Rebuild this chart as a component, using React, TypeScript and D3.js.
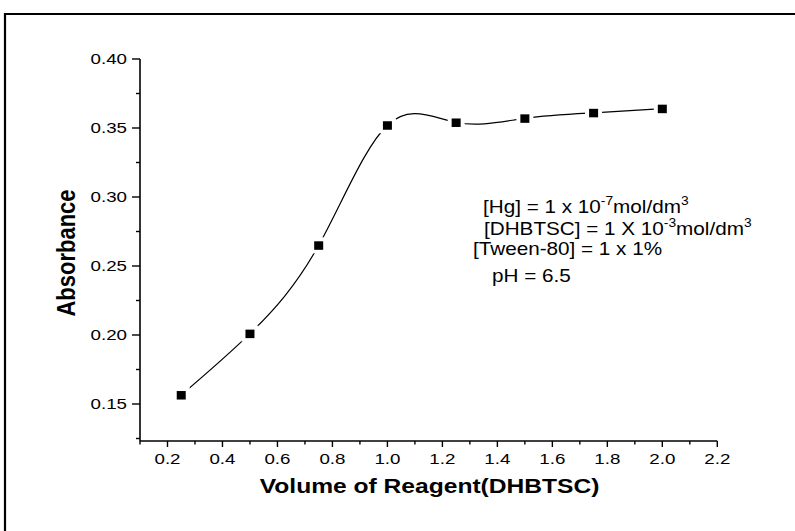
import React from "react";
import * as d3 from "d3";

const volumes = [0.25, 0.5, 0.75, 1.0, 1.25, 1.5, 1.75, 2.0];
const absorbance = [0.1565, 0.201, 0.265, 0.352, 0.354, 0.357, 0.361, 0.364];
const xMajorTicks = [0.2, 0.4, 0.6, 0.8, 1.0, 1.2, 1.4, 1.6, 1.8, 2.0, 2.2];
const xMinorTicks = [0.1, 0.3, 0.5, 0.7, 0.9, 1.1, 1.3, 1.5, 1.7, 1.9, 2.1];
const yMajorTicks = [0.15, 0.2, 0.25, 0.3, 0.35, 0.4];
const yMinorTicks = [0.125, 0.175, 0.225, 0.275, 0.325, 0.375];
const xTitle = "Volume of Reagent(DHBTSC)";
const yTitle = "Absorbance";

const W = 795;
const H = 531;
const FONT = "'Liberation Sans', Arial, sans-serif";

export default function App() {
  const x = d3.scaleLinear().domain([0.1, 2.2]).range([140, 717.3]);
  const y = d3.scaleLinear().domain([0.12319, 0.4]).range([441, 59]);
  const pts = volumes.map((v, i) => [x(v), y(absorbance[i])] as [number, number]);
  const line = d3.line().curve(d3.curveNatural)(pts) || "";
  const x0 = x(0.1);
  const yB = y(0.12319);
  const sx = 1.25;

  return (
    <svg
      width={W}
      height={H}
      style={{ position: "absolute", left: 0, top: 0, background: "#fff" }}
      fontFamily={FONT}
    >
      <rect x={0} y={0} width={W} height={H} fill="#fff" />
      {/* outer frame */}
      <path d={`M5,${H + 5} L5,14 L${W + 5},14`} fill="none" stroke="#000" strokeWidth={2.2} />

      {/* curve */}
      <path d={line} fill="none" stroke="#000" strokeWidth={1.2} />
      {/* markers with white halo */}
      {pts.map(([px, py], i) => (
        <g key={i}>
          <rect x={px - 8.5} y={py - 8} width={17} height={16} fill="#fff" />
          <rect x={px - 4.5} y={py - 4} width={9} height={8.5} fill="#000" />
        </g>
      ))}

      {/* axes */}
      <line x1={x0} x2={x0} y1={y(0.4)} y2={yB} stroke="#000" strokeWidth={1.6} />
      <line x1={x0} x2={x(2.2)} y1={yB} y2={yB} stroke="#000" strokeWidth={1.6} />

      {yMajorTicks.map((t) => (
        <g key={"ym" + t}>
          <line x1={x0 - 8} x2={x0} y1={y(t)} y2={y(t)} stroke="#000" strokeWidth={1.4} />
          <text
            transform={`translate(${x0 - 13},${y(t) + 5.3}) scale(${sx},1)`}
            textAnchor="end"
            fontSize={15}
          >
            {t.toFixed(2)}
          </text>
        </g>
      ))}
      {yMinorTicks.map((t) => (
        <line key={"yn" + t} x1={x0 - 4} x2={x0} y1={y(t)} y2={y(t)} stroke="#000" strokeWidth={1.4} />
      ))}
      {xMajorTicks.map((t) => (
        <g key={"xm" + t}>
          <line x1={x(t)} x2={x(t)} y1={yB} y2={yB + 6} stroke="#000" strokeWidth={1.4} />
          <text
            transform={`translate(${x(t)},${yB + 23}) scale(${sx},1)`}
            textAnchor="middle"
            fontSize={15}
          >
            {t.toFixed(1)}
          </text>
        </g>
      ))}
      {xMinorTicks.map((t) => (
        <line key={"xn" + t} x1={x(t)} x2={x(t)} y1={yB} y2={yB + 3.5} stroke="#000" strokeWidth={1.4} />
      ))}

      {/* axis titles */}
      <text
        transform={`translate(429.6,493) scale(1.23,1)`}
        textAnchor="middle"
        fontSize={20}
        fontWeight="bold"
      >
        {xTitle}
      </text>
      <text
        transform={`translate(74.5,253) rotate(-90) scale(1,1.2)`}
        textAnchor="middle"
        fontSize={22}
        fontWeight="bold"
      >
        {yTitle}
      </text>

      {/* annotations */}
      <g fontSize={18}>
        <text transform={`translate(483,213) scale(1.15,1)`}>
          [Hg] = 1 x 10
          <tspan fontSize={12} dy={-8}>-7</tspan>
          <tspan dy={8}>mol/dm</tspan>
          <tspan fontSize={12} dy={-8}>3</tspan>
        </text>
        <text transform={`translate(484,235) scale(1.15,1)`}>
          [DHBTSC] = 1 X 10
          <tspan fontSize={12} dy={-8}>-3</tspan>
          <tspan dy={8}>mol/dm</tspan>
          <tspan fontSize={12} dy={-8}>3</tspan>
        </text>
        <text transform={`translate(473,255) scale(1.15,1)`}>[Tween-80] = 1 x 1%</text>
        <text transform={`translate(492,282) scale(1.15,1)`}>pH = 6.5</text>
      </g>
    </svg>
  );
}
